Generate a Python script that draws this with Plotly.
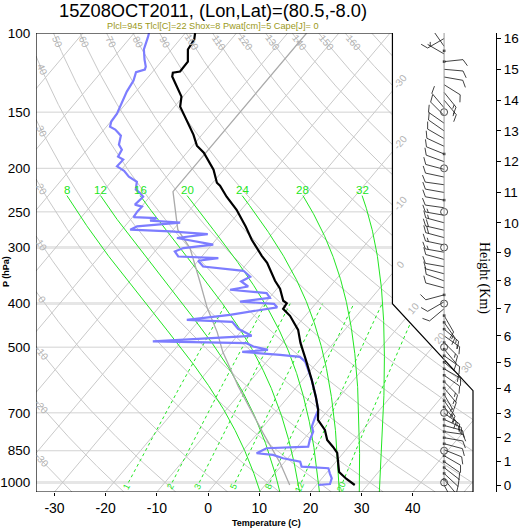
import math
import numpy as np
import plotly.graph_objects as go

# ---------------- sounding: temperature (deg C) against pressure (hPa) ----------------
temp_p = [100.0, 103.4, 108.8, 115.8, 121.8, 122.6, 125.0, 131.6, 138.5, 145.8, 161.6, 168.3,
          178.1, 184.6, 201.4, 215.3, 218.6, 231.3, 247.3, 269.8, 288.4, 302.0, 313.1, 324.5,
          336.3, 355.8, 370.7, 394.2, 399.3, 410.8, 425.8, 457.6, 489.1, 525.5, 539.1, 591.3,
          645.1, 689.7, 725.8, 764.0, 804.2, 833.6, 859.6, 914.2, 947.7, 982.3, 1013.0]
temp_t = [-78.1, -77.2, -76.8, -74.8, -74.7, -75.9, -75.4, -72.8, -70.3, -68.9, -63.7, -61.7,
          -59.2, -56.7, -52.0, -49.2, -48.1, -45.0, -40.9, -36.3, -33.0, -30.5, -28.4, -26.2,
          -24.5, -21.7, -19.4, -16.8, -15.7, -15.5, -13.0, -9.1, -6.5, -3.3, -2.2, 1.8,
          5.4, 8.0, 9.6, 12.6, 14.7, 17.0, 18.8, 21.0, 22.3, 24.9, 27.5]

# ---------------- dewpoint (deg C) ----------------
dewp_p = [100.0, 102.3, 108.8, 114.6, 118.8, 120.6, 122.2, 127.6, 135.0, 142.8, 151.1, 157.4,
          161.6, 164.0, 169.2, 177.2, 181.8, 188.4, 191.3, 198.0, 202.5, 208.7, 214.2, 223.1,
          227.0, 231.3, 234.9, 240.9, 243.4, 249.7, 256.9, 258.2, 261.5, 264.2, 269.3, 273.9,
          276.3, 280.3, 285.8, 295.8, 300.9, 306.2, 314.2, 316.8, 321.2, 330.7, 338.1, 348.6,
          357.1, 366.4, 372.6, 379.0, 388.2, 395.8, 400.5, 407.7, 423.6, 434.6, 439.1, 455.1,
          471.7, 485.3, 489.8, 498.4, 507.0, 512.2, 520.1, 525.5, 538.3, 591.3, 645.1, 689.7,
          719.5, 751.1, 770.6, 804.2, 832.3, 839.1, 860.9, 868.5, 883.3, 898.8, 922.2, 929.8,
          954.0, 978.8, 1007.9, 1013.0]
dewp_t = [-87.1, -86.6, -85.4, -83.6, -82.2, -81.9, -83.2, -82.3, -81.8, -81.0, -80.1, -79.9,
          -79.3, -77.8, -75.7, -74.6, -73.2, -72.8, -71.3, -71.4, -69.3, -67.4, -65.0, -63.9,
          -62.5, -61.3, -61.4, -61.6, -59.9, -60.0, -59.8, -55.1, -56.0, -49.8, -57.6, -58.4,
          -50.3, -42.5, -47.9, -39.7, -45.0, -46.1, -44.6, -36.5, -40.0, -38.1, -29.5, -27.2,
          -28.2, -26.0, -29.0, -21.3, -19.9, -25.1, -18.1, -16.9, -24.9, -32.5, -23.3, -21.0,
          -17.2, -35.6, -17.0, -15.1, -11.7, -16.4, -8.5, -4.3, -2.5, 1.8, 5.4, 8.0,
          8.7, 9.5, 10.6, 11.3, 12.1, 4.2, 3.1, 6.6, 9.1, 13.0, 14.1, 19.6,
          20.7, 21.9, 22.5, 20.4]

# ---------------- lifted parcel path ----------------
parcel_p = [100.0, 225.4, 273.9, 300.9, 357.7, 408.7, 462.3, 512.2, 609.8, 775.8, 904.9, 1013.0]
parcel_t = [-56.3, -56.3, -49.1, -43.7, -36.2, -30.5, -24.6, -20.2, -11.6, 1.0, 9.3, 14.8]

# ---------------- winds on height levels ----------------
wind_z = [0.00, 0.25, 0.50, 0.75, 1.00, 1.25, 1.50, 1.75, 2.00, 2.25, 2.50, 2.75, 3.00,
          3.25, 3.50, 3.75, 4.00, 4.25, 4.50, 4.75, 5.00, 5.25, 5.50, 5.75, 6.00, 6.25,
          6.50, 6.75, 7.00, 7.25, 7.50, 7.75, 8.00, 8.25, 8.50, 8.75, 9.00, 9.25, 9.50,
          9.75, 10.00, 10.25, 10.50, 10.75, 11.00, 11.25, 11.50, 11.75, 12.00, 12.25, 12.50,
          12.75, 13.00, 13.25, 13.50, 13.75, 14.00, 14.25, 14.50, 14.75, 15.00, 15.25, 15.50,
          15.75, 16.00]
wind_dir = [152, 140, 133, 128, 125, 120, 112, 105, 100, 98, 105, 115, 125,
            140, 145, 150, 140, 135, 125, 120, 130, 125, 140, 135, 125, 130,
            145, 150, 230, 240, 255, 285, 290, 285, 280, 285, 280, 282, 285,
            283, 285, 280, 278, 280, 280, 278, 282, 285, 290, 292, 295,
            300, 305, 305, 315, 320, 140, 141, 122, 100, 95, 84, 300,
            325, 240]
wind_spd = [10, 10, 10, 10, 10, 10, 10, 10, 10, 10, 15, 15, 15,
            15, 15, 15, 15, 15, 10, 10, 10, 10, 10, 15, 15, 15,
            15, 10, 10, 10, 10, 10, 10, 10, 10, 10, 15, 15, 20,
            20, 15, 15, 10, 10, 10, 10, 10, 10, 10, 10, 10,
            10, 10, 10, 10, 10, 15, 15, 10, 10, 10, 10, 5,
            10, 10]
# heights (km) of the small reporting dots on the wind column
dot_z = [0.25, 0.50, 0.75, 1.00, 1.25, 1.75, 2.00, 2.25, 2.50, 2.75, 3.25, 3.50, 3.75,
         4.00, 4.25, 4.50, 4.75, 5.00, 5.25, 5.50, 5.75, 6.25, 6.50, 6.75, 7.50,
         10.75, 12.25, 15.25, 15.60]
mandatory_p = [150, 200, 250, 300, 400, 500, 700, 850, 1000]

# ---------------- diagram furniture ----------------
isobars = [100, 150, 200, 250, 300, 400, 500, 700, 850, 1000]
isobars_wide = [300, 400, 1000]
temp_ticks = [-30, -20, -10, 0, 10, 20, 30, 40]
height_ticks = [0, 1, 2, 3, 4, 5, 6, 7, 8, 9, 10, 11, 12, 13, 14, 15, 16]
isotherms = [-100, -90, -80, -70, -60, -50, -40, -30, -20, -10, 0, 10, 20, 30, 40, 50]
isotherm_labels = [-30, -20, -10, 0, 10, 20, 30]
dry_adiabats = [-30, -20, -10, 0, 10, 20, 30, 40, 50, 60, 70, 80, 90, 100, 110, 120,
                130, 140, 150, 160, 170]
dry_labels = [-30, -20, -10, 0, 10, 20, 30, 40, 50, 60, 70, 80, 90, 100, 110, 120,
              130, 140, 150, 160]
moist_adiabats = [8, 12, 16, 20, 24, 28, 32]
mixing_ratios = [1, 2, 3, 5, 8, 12, 20]

title_text = "15Z08OCT2011, (Lon,Lat)=(80.5,-8.0)"
info_text = "Plcl=945 Tlcl[C]=22 Shox=8 Pwat[cm]=5 Cape[J]= 0"

# ---------------- geometry ----------------
W, H = 521, 528
ML, MR, MT, MB = 36, 25, 33, 36
PLOT_W = W - ML - MR
PLOT_H = H - MT - MB
BOX_W = 437                      # width of the skew-T frame inside the plot area
P_TOP, P_BOT = 100.0, 1050.0
X_LEFT, X_RIGHT, X_CUT = -19.0, 27.1, 18.6
Y_CUT_LO, Y_CUT_HI = 9.0, 17.53
X_AXIS_MAX = X_LEFT + PLOT_W * (X_RIGHT - X_LEFT) / BOX_W
PX_PER_X = BOX_W / (X_RIGHT - X_LEFT)
PX_PER_DEC = PLOT_H / (math.log10(P_BOT) - math.log10(P_TOP))

GRID = '#c9c9c9'
GRID_LABEL = '#b3b3b3'
GREEN = '#22e622'
FONT = 'Liberation Sans'


def skew_y(p):
    return 132.182 - 44.061 * np.log10(p)


def skew_x(t, p):
    return 0.54 * np.asarray(t, dtype=float) + 0.90692 * skew_y(np.asarray(p, dtype=float))


def p_of_y(y):
    return 10 ** ((132.182 - y) / 44.061)


Y_MIN, Y_MAX = float(skew_y(P_BOT)), float(skew_y(P_TOP))


def inside(x, y):
    e = 1e-9
    if y < Y_MIN - e or y > Y_MAX + e or x < X_LEFT - e or x > X_RIGHT + e:
        return False
    if x <= X_CUT + e:
        return True
    ylim = Y_CUT_LO + (X_RIGHT - x) * (Y_CUT_HI - Y_CUT_LO) / (X_RIGHT - X_CUT)
    return y <= ylim + e


def clip(xs, ys):
    """Keep only the parts of a polyline that fall inside the skew-T frame."""
    ox, oy = [], []
    prev = None
    for i in range(len(xs)):
        x, y = float(xs[i]), float(ys[i])
        ins = inside(x, y)
        if i > 0 and ins != prev:
            x0, y0 = float(xs[i - 1]), float(ys[i - 1])
            lo, hi = 0.0, 1.0
            for _ in range(40):
                m = 0.5 * (lo + hi)
                if inside(x0 + (x - x0) * m, y0 + (y - y0) * m) == prev:
                    lo = m
                else:
                    hi = m
            m = lo if prev else hi
            ox.append(x0 + (x - x0) * m)
            oy.append(y0 + (y - y0) * m)
            if not ins:
                ox.append(None)
                oy.append(None)
        if ins:
            ox.append(x)
            oy.append(y)
        prev = ins
    ox.append(None)
    oy.append(None)
    return ox, [None if v is None else float(p_of_y(v)) for v in oy]


def gather(lines):
    gx, gp = [], []
    for xs, ys in lines:
        cx, cp = clip(xs, ys)
        gx += cx
        gp += cp
    return gx, gp


def screen_angle(x1, p1, x2, p2):
    dx = (x2 - x1) * PX_PER_X
    dy = (math.log10(p2) - math.log10(p1)) * PX_PER_DEC
    return math.degrees(math.atan2(dy, dx))


def dry_t(theta, p):
    return (theta + 273.15) * (np.asarray(p) / 1000.0) ** 0.2857 - 273.15


def sat_vp(tc):
    return 6.112 * np.exp(17.67 * tc / (tc + 243.5))


def moist_rate(T, p):
    e = sat_vp(T - 273.15)
    rs = 0.622 * e / (p - e)
    return (287.04 * T + 2.501e6 * rs) / (p * (1005.7 + 2.501e6 ** 2 * rs * 0.622 / (287.04 * T * T)))


def moist_path(thw, p_end, dp):
    T = thw + 273.15
    p = 1000.0
    ps, ts = [p], [T - 273.15]
    n = int(round(abs(p_end - 1000.0) / abs(dp)))
    for _ in range(n):
        k1 = moist_rate(T, p)
        k2 = moist_rate(T + 0.5 * dp * k1, p + 0.5 * dp)
        k3 = moist_rate(T + 0.5 * dp * k2, p + 0.5 * dp)
        k4 = moist_rate(T + dp * k3, p + dp)
        T += dp * (k1 + 2 * k2 + 2 * k3 + k4) / 6.0
        p += dp
        ps.append(p)
        ts.append(T - 273.15)
    return np.array(ps), np.array(ts)


def mix_t(w, p):
    e = w * np.asarray(p) / (622.0 + w)
    lg = np.log(e / 6.112)
    return 243.5 * lg / (17.67 - lg)


def std_pressure(z_km):
    if z_km <= 11.0:
        return 1013.25 * (1 - 0.0065 * z_km * 1000 / 288.15) ** 5.25588
    return 226.32 * math.exp(-(z_km - 11.0) * 1000 / 6341.62)


P_FINE = np.logspace(math.log10(P_BOT), math.log10(P_TOP), 400)
annotations = []


def note(x, p, text, angle=0, color=GRID_LABEL, size=10, xshift=0, yshift=0, family=FONT):
    annotations.append(dict(x=float(x), y=math.log10(p), xref='x', yref='y', text=text,
                            textangle=angle, showarrow=False, xshift=xshift, yshift=yshift,
                            font=dict(family=family, size=size, color=color),
                            xanchor='center', yanchor='middle'))


fig = go.Figure()

# isobars
xs_line = np.linspace(X_LEFT, X_RIGHT, 200)
thin = [(xs_line, np.full_like(xs_line, skew_y(p))) for p in isobars if p not in isobars_wide]
wide = [(xs_line, np.full_like(xs_line, skew_y(p))) for p in isobars_wide]
gx, gp = gather(wide)
fig.add_trace(go.Scatter(x=gx, y=gp, mode='lines', line=dict(color='#e6e6e6', width=3)))
gx, gp = gather(thin)
fig.add_trace(go.Scatter(x=gx, y=gp, mode='lines', line=dict(color='#d2d2d2', width=1)))

# isotherms
gx, gp = gather([(skew_x(t, P_FINE), skew_y(P_FINE)) for t in isotherms])
fig.add_trace(go.Scatter(x=gx, y=gp, mode='lines', line=dict(color=GRID, width=1)))

# dry adiabats
gx, gp = gather([(skew_x(dry_t(th, P_FINE), P_FINE), skew_y(P_FINE)) for th in dry_adiabats])
fig.add_trace(go.Scatter(x=gx, y=gp, mode='lines', line=dict(color=GRID, width=1)))

# mixing-ratio lines
P_MIX = np.logspace(3, math.log10(400), 80)
gx, gp = gather([(skew_x(mix_t(w, P_MIX), P_MIX), skew_y(P_MIX)) for w in mixing_ratios])
fig.add_trace(go.Scatter(x=gx, y=gp, mode='lines', line=dict(color=GREEN, width=1, dash='dot')))

# moist (pseudo-)adiabats
moist_lines = []
moist_tops = []
for thw in moist_adiabats:
    pu, tu = moist_path(thw, 230.0, -2.0)
    pd, td = moist_path(thw, P_BOT, 2.0)
    pp = np.concatenate([pd[::-1], pu[1:]])
    tt = np.concatenate([td[::-1], tu[1:]])
    moist_lines.append((skew_x(tt, pp), skew_y(pp)))
    moist_tops.append(float(skew_x(tu[-1], pu[-1])))
gx, gp = gather(moist_lines)
fig.add_trace(go.Scatter(x=gx, y=gp, mode='lines', line=dict(color=GREEN, width=1)))

# parcel, temperature and dewpoint
fig.add_trace(go.Scatter(x=skew_x(parcel_t, parcel_p), y=parcel_p, mode='lines',
                         line=dict(color='#aaaaaa', width=1.3)))
fig.add_trace(go.Scatter(x=skew_x(dewp_t, dewp_p), y=dewp_p, mode='lines',
                         line=dict(color='#7d7dff', width=2.2)))
fig.add_trace(go.Scatter(x=skew_x(temp_t, temp_p), y=temp_p, mode='lines',
                         line=dict(color='black', width=2.2)))

# frame
frame_x = [X_LEFT, X_RIGHT, X_RIGHT, X_CUT, X_CUT, X_LEFT, X_LEFT]
frame_y = [Y_MIN, Y_MIN, Y_CUT_LO, Y_CUT_HI, Y_MAX, Y_MAX, Y_MIN]
fig.add_trace(go.Scatter(x=frame_x, y=[float(p_of_y(v)) for v in frame_y], mode='lines',
                         line=dict(color='black', width=1.2)))

# wind column
BARB_X = 24.05
BARB_LEN, FULL, HALF, GAP = 19.0, 7.5, 4.0, 3.0


def to_data(p0, e, n):
    return BARB_X + e / PX_PER_X, p0 * 10 ** (-n / PX_PER_DEC)


bx, bp = [], []
for z, d, s in zip(wind_z, wind_dir, wind_spd):
    p0 = std_pressure(z)
    rad = math.radians(d)
    ue, un = math.sin(rad), math.cos(rad)
    pe, pn = un, -ue
    segs = [((0.0, 0.0), (ue * BARB_LEN, un * BARB_LEN))]
    n10 = int(s // 10)
    n5 = (s % 10) >= 5
    pos = BARB_LEN
    for _ in range(n10):
        sx, sy = ue * pos, un * pos
        segs.append(((sx, sy), (sx + FULL * (0.87 * pe + 0.5 * ue), sy + FULL * (0.87 * pn + 0.5 * un))))
        pos -= GAP
    if n5:
        if n10 == 0:
            pos = BARB_LEN - GAP
        sx, sy = ue * pos, un * pos
        segs.append(((sx, sy), (sx + HALF * (0.87 * pe + 0.5 * ue), sy + HALF * (0.87 * pn + 0.5 * un))))
    for a, b in segs:
        xa, pa = to_data(p0, *a)
        xb, pb = to_data(p0, *b)
        bx += [xa, xb, None]
        bp += [pa, pb, None]

fig.add_trace(go.Scatter(x=[BARB_X, BARB_X], y=[std_pressure(0.0), P_TOP], mode='lines',
                         line=dict(color='#9a9a9a', width=1), xaxis='x', yaxis='y2'))
fig.add_trace(go.Scatter(x=bx, y=bp, mode='lines', line=dict(color='#111111', width=0.8)))
fig.add_trace(go.Scatter(x=[BARB_X] * len(dot_z), y=[std_pressure(z) for z in dot_z],
                         mode='markers', marker=dict(symbol='square', size=2.5, color='black')))
fig.add_trace(go.Scatter(x=[BARB_X] * len(mandatory_p), y=mandatory_p, mode='markers',
                         marker=dict(symbol='circle-open', size=7, color='#444444', line=dict(width=1))))

# ---------------- labels ----------------
# dry adiabats: along the top edge or the left edge
X_LEFT_LABEL = X_LEFT + 0.63
for th in dry_labels:
    x_top = float(skew_x(dry_t(th, P_TOP), P_TOP))
    if x_top >= X_LEFT:
        p_lab = 105.0
    else:
        lo, hi = math.log10(P_TOP), math.log10(P_BOT)
        for _ in range(50):
            m = 0.5 * (lo + hi)
            if float(skew_x(dry_t(th, 10 ** m), 10 ** m)) < X_LEFT_LABEL:
                lo = m
            else:
                hi = m
        p_lab = 10 ** lo
    x_lab = float(skew_x(dry_t(th, p_lab), p_lab))
    ang = screen_angle(float(skew_x(dry_t(th, p_lab * 0.98), p_lab * 0.98)), p_lab * 0.98,
                       float(skew_x(dry_t(th, p_lab * 1.02), p_lab * 1.02)), p_lab * 1.02)
    note(x_lab, p_lab, str(th), angle=ang)

# isotherms: beyond the right edge of the frame
for t in isotherm_labels:
    y_edge = (X_CUT - 0.54 * t) / 0.90692
    if y_edge >= Y_CUT_HI:
        x_e, y_e = X_CUT, y_edge
    else:
        k = (Y_CUT_HI - Y_CUT_LO) / (X_RIGHT - X_CUT)
        # diagonal: y = Y_CUT_LO + k (X_RIGHT - x); isotherm: x = 0.54 t + 0.90692 y
        y_e = (Y_CUT_LO + k * (X_RIGHT - 0.54 * t)) / (1 + k * 0.90692)
        x_e = 0.54 * t + 0.90692 * y_e
    p_e = float(p_of_y(y_e))
    ang = screen_angle(float(skew_x(t, p_e * 1.02)), p_e * 1.02, float(skew_x(t, p_e * 0.98)), p_e * 0.98)
    note(x_e, p_e, str(t), angle=ang, xshift=7.7, yshift=9.2)

# moist adiabats: above the upper end of each curve
for thw, xt in zip(moist_adiabats, moist_tops):
    note(xt, 230.0, str(thw), color=GREEN, size=11.5, yshift=6)

# mixing ratios: below the 1000 hPa end of each line
for w in mixing_ratios:
    pl = 1022.0
    xl = float(skew_x(mix_t(w, pl), pl))
    ang = screen_angle(float(skew_x(mix_t(w, pl * 1.02), pl * 1.02)), pl * 1.02,
                       float(skew_x(mix_t(w, pl * 0.98), pl * 0.98)), pl * 0.98)
    note(xl, pl, str(w), angle=ang, color=GREEN, size=9)


def paper_note(px, py, text, size, color='black', angle=0, family=FONT):
    annotations.append(dict(x=(px - ML) / PLOT_W, y=(H - MB - py) / PLOT_H, xref='paper', yref='paper',
                            text=text, showarrow=False, textangle=angle, xanchor='center',
                            yanchor='middle', font=dict(family=family, size=size, color=color)))


paper_note(212.5, 10, title_text, 18.3)
paper_note(213, 26, info_text, 9.2, color='#9b9919')
paper_note(6, 272, '<b>P (hPa)</b>', 9, angle=-90)
paper_note(266, 523, '<b>Temperature (C)</b>', 9)
paper_note(484, 278, 'Height (Km)', 14, angle=90, family='Liberation Serif')

height_p = [std_pressure(z) for z in height_ticks]

fig.update_layout(
    width=W, height=H, margin=dict(l=ML, r=MR, t=MT, b=MB, pad=0, autoexpand=False),
    paper_bgcolor='white', plot_bgcolor='white', showlegend=False,
    annotations=annotations,
    xaxis=dict(range=[X_LEFT, X_AXIS_MAX], showgrid=False, zeroline=False, showline=False,
               automargin=False,
               tickvals=[float(skew_x(t, P_BOT)) for t in temp_ticks],
               ticktext=[str(t) for t in temp_ticks], ticks='outside', ticklen=3,
               tickcolor='black', tickfont=dict(family=FONT, size=14, color='black')),
    yaxis=dict(type='log', range=[math.log10(P_BOT), math.log10(P_TOP)], showgrid=False,
               zeroline=False, showline=False, tickvals=isobars, automargin=False,
               ticktext=[str(p) for p in isobars], ticks='outside', ticklen=2,
               tickcolor='rgba(0,0,0,0)', tickfont=dict(family=FONT, size=13.5, color='black')),
    yaxis2=dict(type='log', range=[math.log10(P_BOT), math.log10(P_TOP)], overlaying='y',
                side='right', anchor='x', showgrid=False, zeroline=False, showline=True,
                automargin=False,
                linecolor='black', linewidth=1, tickvals=height_p,
                ticktext=[str(z) for z in height_ticks], ticks='outside', ticklen=4,
                tickcolor='black', tickfont=dict(family=FONT, size=13.5, color='black')),
)

fig.write_html("out.html")
